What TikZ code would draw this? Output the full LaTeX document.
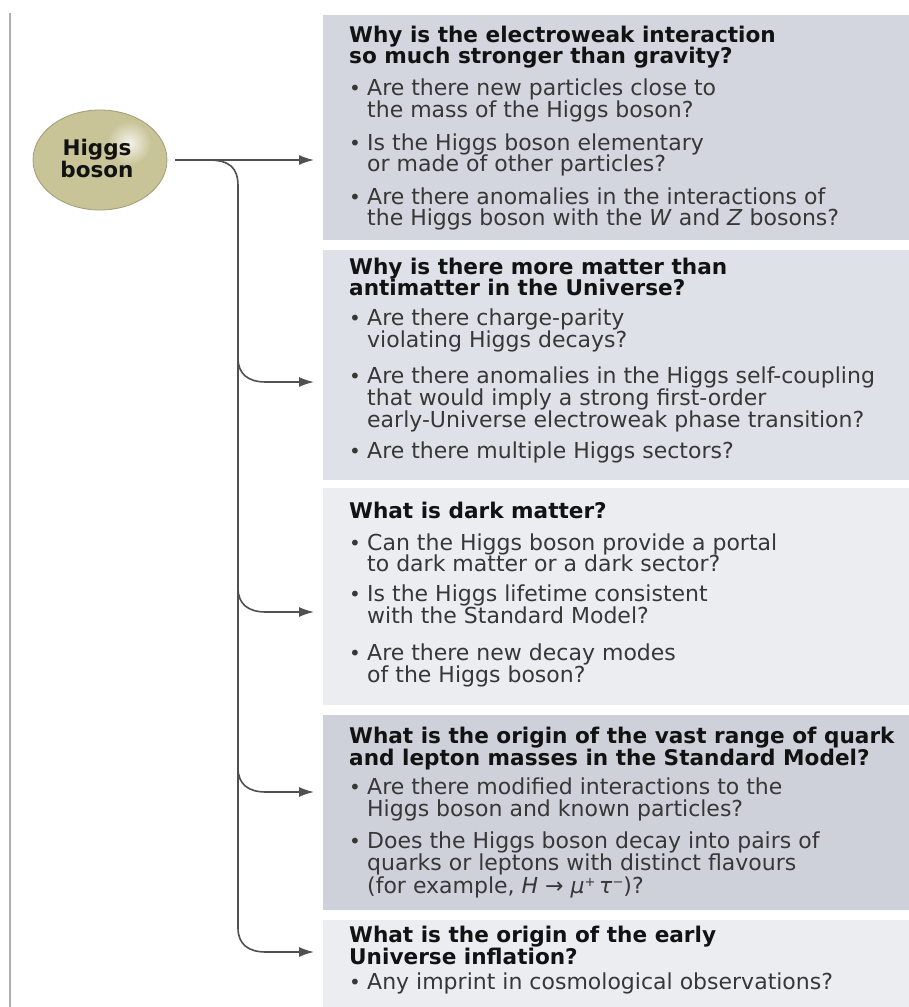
\documentclass[tikz,border=0pt]{standalone}
\usepackage{fontspec}
\setmainfont{DejaVu Sans}
\usetikzlibrary{arrows.meta,shapes.geometric,calc}
\definecolor{boxA}{RGB}{212,214,223}
\definecolor{boxB}{RGB}{223,225,232}
\definecolor{boxC}{RGB}{236,237,241}
\definecolor{boxD}{RGB}{207,209,218}
\definecolor{ellc}{RGB}{200,196,152}
\definecolor{elle}{RGB}{160,156,115}
\definecolor{connc}{RGB}{80,80,80}
\definecolor{headc}{RGB}{18,18,18}
\definecolor{bodyc}{RGB}{55,55,55}
\definecolor{railc}{RGB}{175,175,175}
\newcommand\HeadLine[3]{\node[hd] (#1) at (349,#2) {#3};}
\newcommand\TextLine[3]{\node[tx] (#1) at (367,#2) {#3};}
\newcommand\BulletLine[3]{\node[bul] (#1-b) at (349,#2) {•};\node[tx] (#1) at (367,#2) {#3};}
\newcommand\Branch[2]{\draw[conn,arr] (238,#2-24) .. controls (238,#2-8) and (248,#2) .. (266,#2) -- (#1.west |- 0,#2);}
\begin{document}
\begin{tikzpicture}[x=1pt,y=-1pt,
  qbox/.style={draw=none,anchor=north west,inner sep=0,minimum width=586pt},
  hd/.style={anchor=base west,inner sep=0,text=headc,font=\fontsize{21.6}{22}\selectfont\bfseries},
  tx/.style={anchor=base west,inner sep=0,text=bodyc,font=\fontsize{22}{22}\selectfont},
  bul/.style={anchor=base west,inner sep=0,text=bodyc,font=\fontsize{20}{20}\selectfont},
  conn/.style={draw=connc,line width=1.6pt},
  arr/.style={-{Latex[length=15pt,width=10pt]},shorten >=9pt}]
\useasboundingbox (0,0) rectangle (909,1007);
\fill[white] (0,0) rectangle (909,1007);
% left rail
\draw[railc,line width=2pt] (10,13) -- (10,1007);
% boxes
\node[qbox,fill=boxA,minimum height=225pt] (b1) at (323,15) {};
\node[qbox,fill=boxB,minimum height=230pt] (b2) at (323,250) {};
\node[qbox,fill=boxC,minimum height=217pt] (b3) at (323,488) {};
\node[qbox,fill=boxD,minimum height=195pt] (b4) at (323,715) {};
\node[qbox,fill=boxC,minimum height=87pt] (b5) at (323,920) {};
% Higgs ellipse
\node[ellipse,draw=elle,line width=0.8pt,fill=ellc,minimum width=134pt,minimum height=100pt,inner sep=0] (hb) at (100,160) {};
\shade[inner color=white!80!ellc,outer color=ellc] (129,143) circle (22pt);
\node[anchor=base,inner sep=0,text=headc,font=\fontsize{21.5}{22}\selectfont\bfseries] (hbt1) at (97,155) {Higgs};
\node[anchor=base,inner sep=0,text=headc,font=\fontsize{21.5}{22}\selectfont\bfseries] (hbt2) at (97,177) {boson};
% connectors
\coordinate (j) at (208,160);
\draw[conn,arr,shorten <=8pt] (hb.east) -- (b1.west |- hb.east);
\draw[conn] (j) .. controls (230,160) and (238,168) .. (238,186) -- (238,928);
\Branch{b2}{382}
\Branch{b3}{612}
\Branch{b4}{792}
\Branch{b5}{952}
% box 1
\HeadLine{h1a}{42}{Why is the electroweak interaction}
\HeadLine{h1b}{63}{so much stronger than gravity?}
\BulletLine{q1a}{95}{Are there new particles close to}
\TextLine{q1b}{117}{the mass of the Higgs boson?}
\BulletLine{q1c}{150}{Is the Higgs boson elementary}
\TextLine{q1d}{171}{or made of other particles?}
\BulletLine{q1e}{204}{Are there anomalies in the interactions of}
\TextLine{q1f}{225}{the Higgs boson with the \textit{W} and \textit{Z} bosons?}
% box 2
\HeadLine{h2a}{274}{Why is there more matter than}
\HeadLine{h2b}{295}{antimatter in the Universe?}
\BulletLine{q2a}{325}{Are there charge-parity}
\TextLine{q2b}{347}{violating Higgs decays?}
\BulletLine{q2c}{383}{Are there anomalies in the Higgs self-coupling}
\TextLine{q2d}{405}{that would imply a strong first-order}
\TextLine{q2e}{427}{early-Universe electroweak phase transition?}
\BulletLine{q2f}{458}{Are there multiple Higgs sectors?}
% box 3
\HeadLine{h3a}{518}{What is dark matter?}
\BulletLine{q3a}{550}{Can the Higgs boson provide a portal}
\TextLine{q3b}{571}{to dark matter or a dark sector?}
\BulletLine{q3c}{601}{Is the Higgs lifetime consistent}
\TextLine{q3d}{623}{with the Standard Model?}
\BulletLine{q3e}{660}{Are there new decay modes}
\TextLine{q3f}{682}{of the Higgs boson?}
% box 4
\HeadLine{h4a}{743}{What is the origin of the vast range of quark}
\HeadLine{h4b}{765}{and lepton masses in the Standard Model?}
\BulletLine{q4a}{794}{Are there modified interactions to the}
\TextLine{q4b}{816}{Higgs boson and known particles?}
\BulletLine{q4c}{848}{Does the Higgs boson decay into pairs of}
\TextLine{q4d}{870}{quarks or leptons with distinct flavours}
\TextLine{q4e}{893}{(for example, \textit{H} → \textit{μ}\raisebox{0.3em}{\fontsize{13}{13}\selectfont +}\,\textit{τ}\raisebox{0.3em}{\fontsize{13}{13}\selectfont −})?}
% box 5
\HeadLine{h5a}{942}{What is the origin of the early}
\HeadLine{h5b}{964}{Universe inflation?}
\BulletLine{q5a}{989}{Any imprint in cosmological observations?}
\end{tikzpicture}
\end{document}
